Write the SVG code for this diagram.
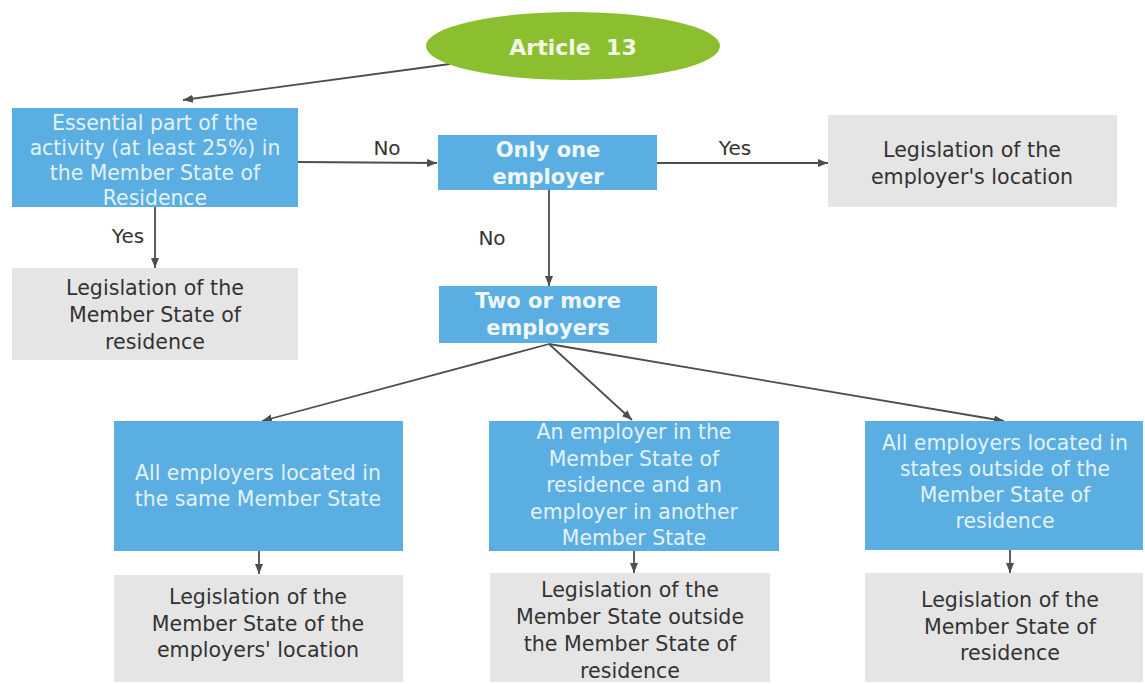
<svg xmlns="http://www.w3.org/2000/svg" width="1145" height="684" viewBox="0 0 1145 684">
<defs>
<style>
.blue{fill:#5aaee2}
.grey{fill:#e6e5e5}
.bt{font-family:"DejaVu Sans",Verdana,sans-serif;font-size:20.4px;fill:#e4f2fb;text-anchor:middle}
.bb{font-family:"DejaVu Sans",Verdana,sans-serif;font-size:21px;font-weight:bold;fill:#eef8fd;text-anchor:middle}
.gt{font-family:"DejaVu Sans",Verdana,sans-serif;font-size:20.6px;fill:#333;text-anchor:middle}
.lb{font-family:"DejaVu Sans",Verdana,sans-serif;font-size:20px;fill:#333;text-anchor:middle}
.c{stroke:#4d4d4d;stroke-width:1.8;fill:none;marker-end:url(#ah)}
</style>
<marker id="ah" markerUnits="userSpaceOnUse" markerWidth="10" markerHeight="10" viewBox="0 0 10 10" refX="10" refY="5" orient="auto">
<path d="M0,1 L10,5 L0,9 Z" fill="#4d4d4d"/>
</marker>
</defs>
<rect width="1145" height="684" fill="#fff"/>

<g id="connectors">
<line class="c" x1="450" y1="64" x2="183" y2="100"/>
<line class="c" x1="298" y1="162" x2="437" y2="163"/>
<line class="c" x1="657" y1="163" x2="828" y2="163"/>
<line class="c" x1="155" y1="207" x2="155" y2="268"/>
<line class="c" x1="549" y1="190" x2="549" y2="286"/>
<line class="c" x1="549" y1="344" x2="262" y2="421"/>
<line class="c" x1="549" y1="344" x2="632" y2="420"/>
<line class="c" x1="549" y1="344" x2="1004" y2="421"/>
<line class="c" x1="259" y1="551" x2="259" y2="574"/>
<line class="c" x1="634" y1="551" x2="634" y2="573"/>
<line class="c" x1="1010" y1="550" x2="1010" y2="573"/>
<text class="lb" x="387" y="155">No</text>
<text class="lb" x="735" y="155">Yes</text>
<text class="lb" x="128" y="243">Yes</text>
<text class="lb" x="492" y="245">No</text>
</g>

<g id="article13">
<ellipse cx="573" cy="46" rx="147" ry="34" fill="#8cbf2f"/>
<text x="573" y="55" font-family="DejaVu Sans, Verdana, sans-serif" font-size="22" font-weight="bold" fill="#f2f8e6" text-anchor="middle">Article&#160; 13</text>
</g>

<g id="essential">
<rect class="blue" x="12" y="108" width="286" height="99"/>
<text class="bt" x="155" y="130">Essential part of the</text>
<text class="bt" x="155" y="155">activity (at least 25%) in</text>
<text class="bt" x="155" y="180">the Member State of</text>
<text class="bt" x="155" y="205">Residence</text>
</g>

<g id="onlyone">
<rect class="blue" x="438" y="135" width="219" height="55"/>
<text class="bb" x="548" y="157">Only one</text>
<text class="bb" x="548" y="184">employer</text>
</g>

<g id="employerlocation">
<rect class="grey" x="828" y="115" width="289" height="92"/>
<text class="gt" x="972" y="157">Legislation of the</text>
<text class="gt" x="972" y="184">employer's location</text>
</g>

<g id="residence1">
<rect class="grey" x="12" y="268" width="286" height="92"/>
<text class="gt" x="155" y="295">Legislation of the</text>
<text class="gt" x="155" y="322">Member State of</text>
<text class="gt" x="155" y="349">residence</text>
</g>

<g id="twoormore">
<rect class="blue" x="439" y="286" width="218" height="57"/>
<text class="bb" x="548" y="308">Two or more</text>
<text class="bb" x="548" y="335">employers</text>
</g>

<g id="samestate">
<rect class="blue" x="114" y="421" width="289" height="130"/>
<text class="bt" x="258" y="480">All employers located in</text>
<text class="bt" x="258" y="506">the same Member State</text>
</g>

<g id="mixed">
<rect class="blue" x="489" y="421" width="290" height="130"/>
<text class="bt" x="634" y="439">An employer in the</text>
<text class="bt" x="634" y="465.5">Member State of</text>
<text class="bt" x="634" y="492">residence and an</text>
<text class="bt" x="634" y="518.5">employer in another</text>
<text class="bt" x="634" y="545">Member State</text>
</g>

<g id="outside">
<rect class="blue" x="865" y="421" width="278" height="129"/>
<text class="bt" x="1005" y="450">All employers located in</text>
<text class="bt" x="1005" y="476">states outside of the</text>
<text class="bt" x="1005" y="502">Member State of</text>
<text class="bt" x="1005" y="528">residence</text>
</g>

<g id="res-employers">
<rect class="grey" x="114" y="575" width="289" height="107"/>
<text class="gt" x="258" y="604">Legislation of the</text>
<text class="gt" x="258" y="631">Member State of the</text>
<text class="gt" x="258" y="657">employers' location</text>
</g>

<g id="res-outside">
<rect class="grey" x="490" y="573" width="280" height="109"/>
<text class="gt" x="630" y="597">Legislation of the</text>
<text class="gt" x="630" y="624">Member State outside</text>
<text class="gt" x="630" y="651">the Member State of</text>
<text class="gt" x="630" y="678">residence</text>
</g>

<g id="res-residence">
<rect class="grey" x="865" y="573" width="278" height="109"/>
<text class="gt" x="1010" y="607">Legislation of the</text>
<text class="gt" x="1010" y="634">Member State of</text>
<text class="gt" x="1010" y="660">residence</text>
</g>
</svg>
